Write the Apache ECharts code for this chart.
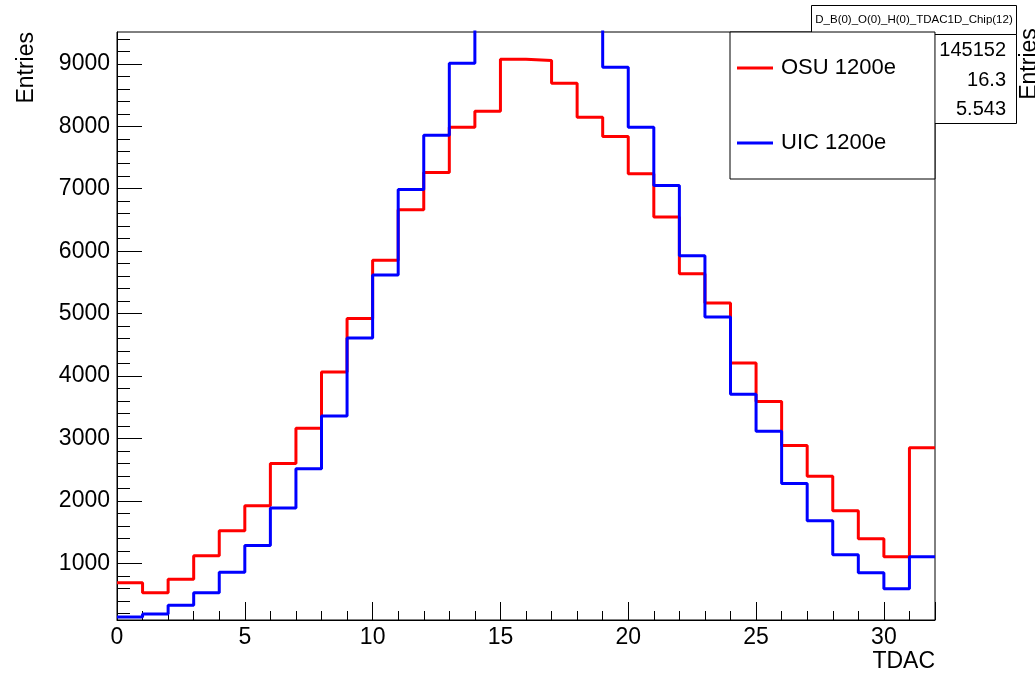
<!DOCTYPE html>
<html><head><meta charset="utf-8">
<script src="https://cdn.jsdelivr.net/npm/echarts@6/dist/echarts.min.js"></script>
<style>html,body{margin:0;padding:0;background:#fff}#c{width:1035px;height:683px}</style>
</head><body><div id="c"></div>
<script>
// ---- data ----
const binLowEdges = [0,1,2,3,4,5,6,7,8,9,10,11,12,13,14,15,16,17,18,19,20,21,22,23,24,25,26,27,28,29,30,31];
const binUpperEdge = 32;
const osuCounts = [690,530,744,1122,1522,1922,2600,3165,4066,4920,5853,6664,7261,7986,8242,9074,9053,8690,8146,7837,7240,6546,5640,5170,4210,3592,2888,2397,1842,1394,1106,2850];
const uicCounts = [141,189,328,530,856,1288,1885,2514,3362,4610,5618,6989,7858,9010,9800,10250,10450,10250,9850,8946,7986,7053,5928,4946,3709,3117,2280,1682,1138,850,594,1106];
const seriesNames = ['OSU 1200e', 'UIC 1200e'];
const yMajorTicks = [1000,2000,3000,4000,5000,6000,7000,8000,9000];
const xMinorTicks = [1,2,3,4,6,7,8,9,11,12,13,14,16,17,18,19,21,22,23,24,26,27,28,29,31];
const statsTitle = 'D_B(0)_O(0)_H(0)_TDAC1D_Chip(12)';
const statsValues = ['145152', '16.3', '5.543'];
const yRange = [93, 9510];
const xRange = [0, 32];

const yMinorTicks = [];
for (let v = 200; v < yRange[1]; v += 200) yMinorTicks.push(v);

function histPoints(counts) {
  const pts = binLowEdges.map((x, i) => [x, counts[i]]);
  pts.push([binUpperEdge, counts[counts.length - 1]]);
  return pts;
}

const FONT = "'Liberation Sans', Arial, Helvetica, sans-serif";
const chart = echarts.init(document.getElementById('c'), null, {renderer: 'canvas'});

const option = {
  animation: false,
  backgroundColor: '#fff',
  textStyle: {fontFamily: FONT, color: '#000'},
  grid: {left: 117, right: 100, top: 32, bottom: 63, show: true, borderColor: '#000', borderWidth: 1, backgroundColor: 'transparent'},
  xAxis: [{
    type: 'value', min: xRange[0], max: xRange[1], interval: 5,
    name: 'TDAC', nameLocation: 'end', nameGap: 0, nameMoveOverlap: false,
    nameTextStyle: {fontFamily: FONT, fontSize: 23, color: '#000', align: 'right', verticalAlign: 'top', padding: [30, 0, 0, 0]},
    axisLine: {show: true, onZero: false, lineStyle: {color: '#000', width: 1}},
    axisTick: {show: true, inside: true, length: 18, lineStyle: {color: '#000', width: 1}},
    minorTick: {show: false},
    axisLabel: {fontFamily: FONT, fontSize: 23, color: '#000', margin: 6,
      formatter: v => (v >= xRange[1] ? '' : String(v))},
    splitLine: {show: false}
  }, {
    type: 'value', min: xRange[0], max: xRange[1], position: 'bottom',
    axisLine: {show: false},
    axisTick: {show: true, inside: true, length: 9, customValues: xMinorTicks, lineStyle: {color: '#000', width: 1}},
    axisLabel: {show: false},
    splitLine: {show: false}
  }],
  yAxis: [{
    type: 'value', min: yRange[0], max: yRange[1], position: 'left',
    axisLine: {show: true, onZero: false, lineStyle: {color: '#000', width: 1}},
    axisTick: {show: true, inside: true, length: 25, customValues: yMajorTicks, lineStyle: {color: '#000', width: 1}},
    axisLabel: {fontFamily: FONT, fontSize: 23, color: '#000', margin: 7, customValues: yMajorTicks,
      formatter: v => String(v)},
    splitLine: {show: false}
  }, {
    type: 'value', min: yRange[0], max: yRange[1], position: 'left', offset: 0,
    axisLine: {show: false},
    axisTick: {show: true, inside: true, length: 13, customValues: yMinorTicks, lineStyle: {color: '#000', width: 1}},
    axisLabel: {show: false},
    splitLine: {show: false}
  }],
  legend: {
    show: true, orient: 'vertical', left: 730, top: 32, z: 10,
    backgroundColor: '#fff', borderColor: '#000', borderWidth: 1, borderRadius: 0,
    padding: [23, 39, 23, 7], itemGap: 49, itemWidth: 36, itemHeight: 3,
    textStyle: {fontFamily: FONT, fontSize: 22, color: '#000', lineHeight: 26, padding: [0, 0, 0, 3]},
    data: seriesNames.map(n => ({name: n, icon: 'rect'})),
    itemStyle: {borderWidth: 0},
    selectedMode: false
  },
  series: [
    {name: seriesNames[0], type: 'line', step: 'end', symbol: 'none', clip: true,
      xAxisIndex: 0, yAxisIndex: 0,
      lineStyle: {color: '#ff0000', width: 3}, itemStyle: {color: '#ff0000'},
      data: histPoints(osuCounts)},
    {name: seriesNames[1], type: 'line', step: 'end', symbol: 'none', clip: true,
      xAxisIndex: 0, yAxisIndex: 0,
      lineStyle: {color: '#0000ff', width: 3}, itemStyle: {color: '#0000ff'},
      data: histPoints(uicCounts)}
  ],
  graphic: [
    {type: 'rect', z: 1, shape: {x: 811.5, y: 5.5, width: 205, height: 29}, style: {fill: '#fff', stroke: '#000', lineWidth: 1}},
    {type: 'text', z: 2, x: 914, y: 20, style: {text: statsTitle, font: "11.5px " + FONT, fill: '#000', align: 'center', verticalAlign: 'middle'}},
    {type: 'rect', z: 1, shape: {x: 811.5, y: 34.5, width: 205, height: 89}, style: {fill: '#fff', stroke: '#000', lineWidth: 1}},
    {type: 'text', z: 2, x: 1006, y: 50, style: {text: statsValues[0], font: "20px " + FONT, fill: '#000', align: 'right', verticalAlign: 'middle'}},
    {type: 'text', z: 2, x: 1006, y: 80, style: {text: statsValues[1], font: "20px " + FONT, fill: '#000', align: 'right', verticalAlign: 'middle'}},
    {type: 'text', z: 2, x: 1006, y: 109, style: {text: statsValues[2], font: "20px " + FONT, fill: '#000', align: 'right', verticalAlign: 'middle'}},
    {type: 'text', z: 1, x: 1030, y: 64, rotation: Math.PI / 2, style: {text: 'Entries', font: "23px " + FONT, fill: '#000', align: 'center', verticalAlign: 'middle'}},
    {type: 'text', z: 1, x: 27, y: 32, rotation: Math.PI / 2, style: {text: 'Entries', font: "23px " + FONT, fill: '#000', align: 'right', verticalAlign: 'middle'}}
  ]
};
chart.setOption(option);
</script>
</body></html>
